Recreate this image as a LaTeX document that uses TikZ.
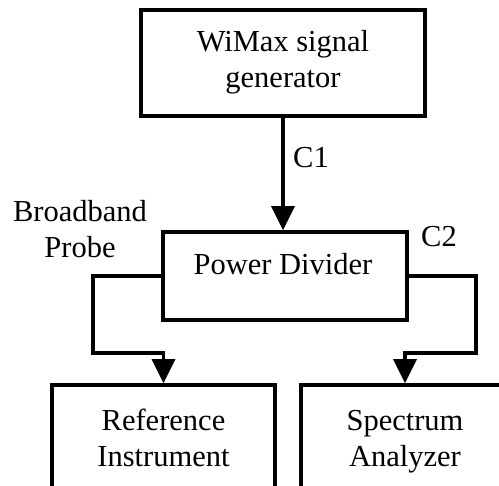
\documentclass[tikz,border=0pt]{standalone}
\usepackage{fontspec}
\setmainfont{Liberation Serif}
\usetikzlibrary{arrows.meta}
\begin{document}
\begin{tikzpicture}[x=1pt,y=-1pt,
  box/.style={draw=black,line width=3.5pt,rectangle,inner sep=0pt,fill=white},
  txt/.style={inner sep=0pt,font=\fontsize{30.5}{36}\selectfont,align=center,anchor=base},
  conn/.style={draw=black,line width=3.5pt,line join=miter},
  arr/.style={conn,-{Triangle[width=23pt,length=24pt]}}]
\useasboundingbox (0,0) rectangle (499,486);
\fill[white] (0,0) rectangle (499,486);
\clip (0,0) rectangle (499,486);
% boxes
\node[box,minimum width=284pt,minimum height=106pt] (gen) at (283,63) {};
\node[box,minimum width=244pt,minimum height=88pt] (pd) at (285,276) {};
\node[box,minimum width=223pt,minimum height=130pt] (ref) at (163.5,450) {};
\node[box,minimum width=208pt,minimum height=130pt] (spec) at (405,450) {};
% texts
\node[txt] (gentxt) at (283,88) {WiMax signal\\generator};
\node[txt] (pdtxt) at (283,275) {Power Divider};
\node[txt] (reftxt) at (163.5,467) {Reference\\Instrument};
\node[txt] (spectxt) at (405,467) {Spectrum\\Analyzer};
\node[txt] (bb) at (80,258) {Broadband\\Probe};
\node[txt,anchor=base west] (c1) at (293,168) {C1};
\node[txt] (c2) at (439,247) {C2};
% connectors
\coordinate (l1) at (93,276);
\coordinate (l2) at (93,353);
\coordinate (r1) at (476,276);
\coordinate (r2) at (476,353);
\draw[arr] (gen.south) -- (gen.south |- pd.north);
\draw[arr] (pd.west) -- (l1) -- (l2) -| (ref.north);
\draw[arr] (pd.east) -- (r1) -- (r2) -| (spec.north);
\end{tikzpicture}
\end{document}
